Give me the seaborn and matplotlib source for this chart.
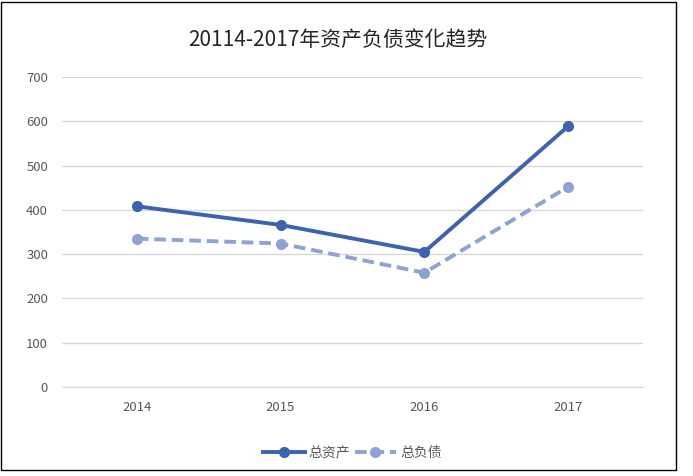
import matplotlib
matplotlib.use("Agg")
import matplotlib.pyplot as plt
from matplotlib import font_manager as fm
import seaborn as sns
import pandas as pd
import glob

years = ["2014", "2015", "2016", "2017"]
assets = [408, 366, 305, 589]
liabilities = [335, 324, 258, 452]
yticks = [0, 100, 200, 300, 400, 500, 600, 700]

cands = [f.fname for f in fm.fontManager.ttflist if "CJK" in f.name]
if not cands:
    cands = glob.glob("/usr/share/fonts/**/*CJK*", recursive=True)
fam = "DejaVu Sans"
if cands:
    fm.fontManager.addfont(cands[0])
    fam = fm.FontProperties(fname=cands[0]).get_name()
plt.rcParams["font.family"] = [fam, "DejaVu Sans"]

fig = plt.figure(figsize=(6.93, 4.76), dpi=100)
ax = fig.add_axes([62/693, 1-387/476, (643-62)/693, 310/476])

df = pd.DataFrame({"x": list(range(4)) * 2,
                   "v": assets + liabilities,
                   "s": ["总资产"] * 4 + ["总负债"] * 4})
c1, c2 = "#3d63b0", "#8fa2d4"
sns.lineplot(data=df[df.s == "总资产"], x="x", y="v", ax=ax, color=c1, lw=2.8,
             marker="o", markersize=8, markeredgewidth=0, label="总资产")
sns.lineplot(data=df[df.s == "总负债"], x="x", y="v", ax=ax, color=c2, lw=2.8,
             marker="o", markersize=8, markeredgewidth=0, linestyle=(0, (3, 1.5)), label="总负债")

ax.set_xlim(-0.52, 3.52)
ax.set_ylim(0, 700)
ax.set_yticks(yticks)
ax.set_xticks(range(4))
ax.set_xticklabels(years)
ax.grid(axis="y", color="#d9d9d9", lw=1)
ax.set_axisbelow(True)
for s in ["top", "right", "left"]:
    ax.spines[s].set_visible(False)
ax.spines["bottom"].set_color("#d9d9d9")
ax.tick_params(length=0, colors="#595959", labelsize=9.5, pad=10)
ax.set_xlabel(""); ax.set_ylabel("")
ax.legend(loc="upper center", bbox_to_anchor=(0.5, -0.15), ncol=2, frameon=False,
          fontsize=10, handlelength=3, columnspacing=0.3, handletextpad=0.3,
          labelcolor="#595959")
fig.text(338/693, 1-40/476, "20114-2017年资产负债变化趋势", ha="center", va="center",
         fontsize=15, color="#262626")
fig.patches.append(plt.Rectangle((1/693, 1-470/476), 675/693, 468/476, transform=fig.transFigure,
                                 fill=False, edgecolor="black", lw=1))
fig.savefig("out.png", dpi=100)
